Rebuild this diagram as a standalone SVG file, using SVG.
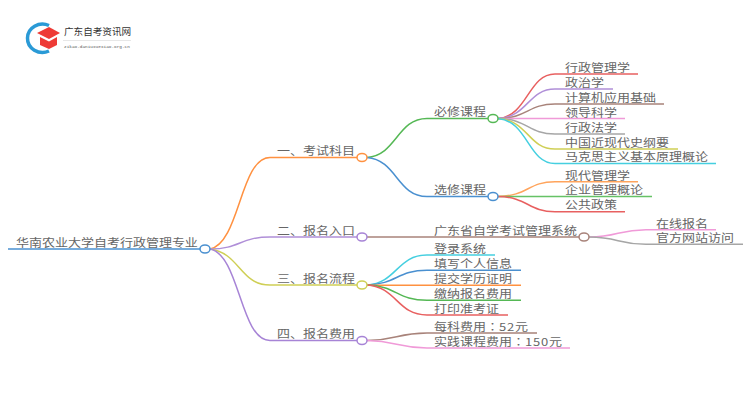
<svg xmlns="http://www.w3.org/2000/svg" width="750" height="410" viewBox="0 0 750 410">
<style>
text{font-family:"Noto Sans CJK SC","Liberation Sans",sans-serif;font-size:11px;fill:#666;transform-box:fill-box;transform-origin:0 50%;transform:scale(1.182,1)}
.logo{transform:none}
.col{font-family:"Noto Sans CJK TC",sans-serif}
.d{letter-spacing:.7px}
.c{fill:none;stroke-width:1.5}
.n{fill:#fff;stroke-width:1.5}
</style>
<rect width="750" height="410" fill="#fff"/>
<g id="logo">
<path d="M49 25.500A15 14 0 0 0 27.500 38A15 14 0 0 0 49 51" fill="none" stroke="#2a9ad6" stroke-width="3.500"/>
<path d="M37 33L49 27L60 33L49 39Z" fill="#ee3b36"/>
<path d="M40 37L49 41.500L57 37V45L49 49L40 45Z" fill="#ee3b36"/>
<text class="logo" x="64" y="35" style="font-size:9.600px;fill:#333">广东自考资讯网</text>
<path d="M63 40.500H131" stroke="#ddd" stroke-width=".7"/>
<text class="logo" x="64" y="48" style="font-size:4.400px;fill:#555;font-family:'Liberation Mono',monospace">zikao.daniuxuexiao.org.cn</text>
</g>
<g id="connectors">
<path class="c" stroke="#4a90d0" d="M8 249H200"/>
<path class="c" stroke="#ff9140" d="M210 249C240 243 240 157.500 270 157.500H357"/>
<path class="c" stroke="#b08fd8" d="M210 249C240 249 240 237 270 237H357"/>
<path class="c" stroke="#cfcf55" d="M210 249C240 253 240 285 270 285H357"/>
<path class="c" stroke="#a784d6" d="M210 249C240 255 240 340.500 270 340.500H357"/>
<path class="c" stroke="#55b855" d="M367 157.500C397 155 397 118.500 427 118.500H488"/>
<path class="c" stroke="#4a90d0" d="M367 157.500C397 160 397 196.500 427 196.500H488"/>
<path class="c" stroke="#e86060" d="M498 118.500C528 116 528 74 555 74H638"/>
<path class="c" stroke="#b08fd8" d="M498 118.500C528 117 528 89 555 89H613"/>
<path class="c" stroke="#a8837a" d="M498 118.500C528 118 528 104 555 104H664"/>
<path class="c" stroke="#f09ad8" d="M498 118.500H625"/>
<path class="c" stroke="#a6a6a6" d="M498 118.500C528 119 528 134 555 134H625"/>
<path class="c" stroke="#cfcf55" d="M498 118.500C528 120 528 149 555 149H678"/>
<path class="c" stroke="#45cfe0" d="M498 118.500C528 121 528 163.500 555 163.500H716"/>
<path class="c" stroke="#ffa45c" d="M498 196.500C528 196 528 181.700 555 181.700H638"/>
<path class="c" stroke="#66c266" d="M498 196.500H652"/>
<path class="c" stroke="#e86060" d="M498 196.500C528 197 528 211.700 555 211.700H625"/>
<path class="c" stroke="#a8837a" d="M367 237H579"/>
<path class="c" stroke="#f09ad8" d="M589 237C618 237 618 229.700 646 229.700H716"/>
<path class="c" stroke="#a6a6a6" d="M589 237C618 237 618 244.300 646 244.300H743"/>
<path class="c" stroke="#45cfe0" d="M367 285C397 283 397 255 427 255H495"/>
<path class="c" stroke="#4a90d0" d="M367 285C397 284 397 270.300 427 270.300H521"/>
<path class="c" stroke="#ff9140" d="M367 285.300H521"/>
<path class="c" stroke="#55b855" d="M367 285C397 286 397 300.300 427 300.300H521"/>
<path class="c" stroke="#e86060" d="M367 285C397 287 397 315 427 315H508"/>
<path class="c" stroke="#a8837a" d="M367 340.500C397 340 397 333 427 333H537"/>
<path class="c" stroke="#f09ad8" d="M367 340.500C397 341 397 348 427 348H570"/>
</g>
<g id="root"><ellipse class="n" stroke="#4a90d0" cx="205" cy="249" rx="5" ry="4"/><text x="16" y="247">华南农业大学自考行政管理专业</text></g>
<g id="n1"><ellipse class="n" stroke="#ff9140" cx="362" cy="157.500" rx="5" ry="4"/><text x="277" y="155">一、考试科目</text></g>
<g id="n2"><ellipse class="n" stroke="#a784d6" cx="362" cy="237" rx="5" ry="4"/><text x="277" y="235">二、报名入口</text></g>
<g id="n3"><ellipse class="n" stroke="#cfcf55" cx="362" cy="285" rx="5" ry="4"/><text x="277" y="283">三、报名流程</text></g>
<g id="n4"><ellipse class="n" stroke="#a784d6" cx="362" cy="340.500" rx="5" ry="4"/><text x="277" y="338">四、报名费用</text></g>
<g id="n11"><ellipse class="n" stroke="#55b855" cx="493" cy="118.500" rx="5" ry="4"/><text x="434" y="116.500">必修课程</text></g>
<g id="n12"><ellipse class="n" stroke="#4a90d0" cx="493" cy="196.500" rx="5" ry="4"/><text x="434" y="194.500">选修课程</text></g>
<g id="n21"><ellipse class="n" stroke="#a8837a" cx="584" cy="237" rx="5" ry="4"/><text x="434" y="235">广东省自学考试管理系统</text></g>
<g id="leaves">
<text x="565" y="72">行政管理学</text>
<text x="565" y="87">政治学</text>
<text x="565" y="102">计算机应用基础</text>
<text x="565" y="117">领导科学</text>
<text x="565" y="132">行政法学</text>
<text x="565" y="147">中国近现代史纲要</text>
<text x="565" y="161.500">马克思主义基本原理概论</text>
<text x="565" y="180">现代管理学</text>
<text x="565" y="194.500">企业管理概论</text>
<text x="565" y="209.500">公共政策</text>
<text x="656" y="228">在线报名</text>
<text x="656" y="242.500">官方网站访问</text>
<text x="434" y="253">登录系统</text>
<text x="434" y="268">填写个人信息</text>
<text x="434" y="283">提交学历证明</text>
<text x="434" y="298">缴纳报名费用</text>
<text x="434" y="313">打印准考证</text>
<text x="434" y="331">每科费用<tspan class="col">：</tspan><tspan class="d">52</tspan>元</text>
<text x="434" y="346">实践课程费用<tspan class="col">：</tspan><tspan class="d">150</tspan>元</text>
</g>
</svg>
